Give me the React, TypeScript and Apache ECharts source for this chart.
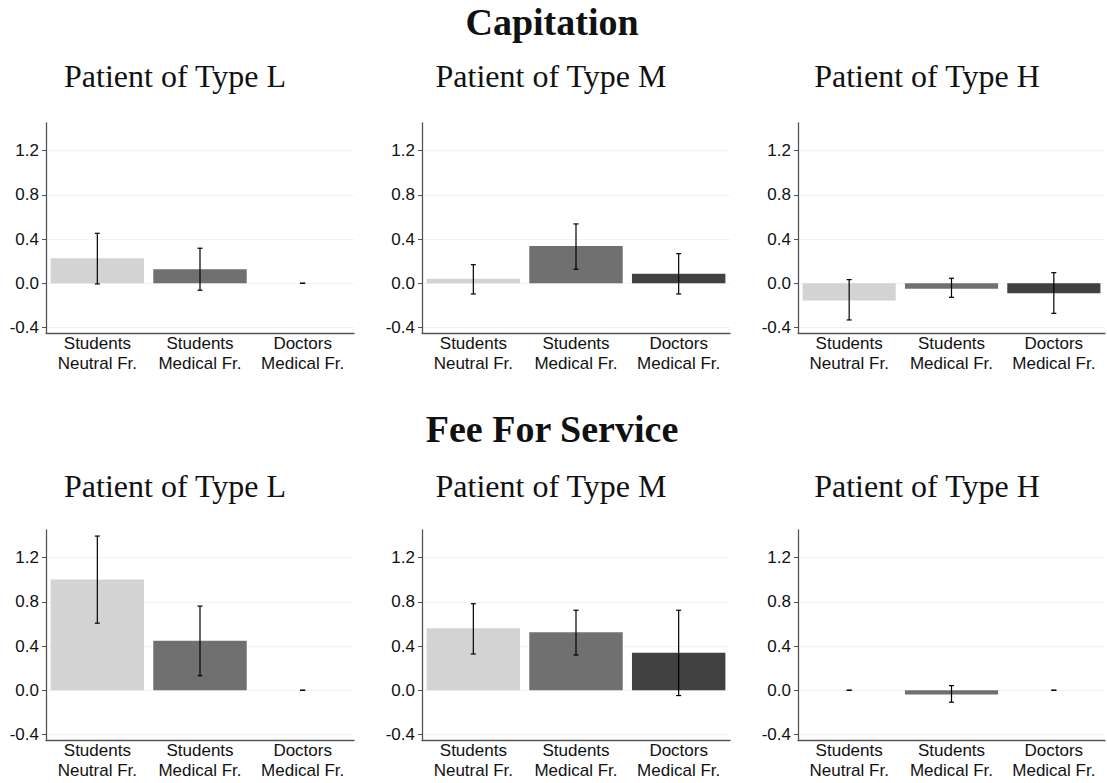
import React, { useEffect, useRef } from "react";
import * as echarts from "echarts";

const categories = ["Students\nNeutral Fr.", "Students\nMedical Fr.", "Doctors\nMedical Fr."];
const barColors = ["#d3d3d3", "#707070", "#414141"];
const yTicks = [-0.4, 0, 0.4, 0.8, 1.2];

const rowTitles = ["Capitation", "Fee For Service"];
const panelTitles = ["Patient of Type L", "Patient of Type M", "Patient of Type H"];

// Capitation
const capL = [0.226, 0.127, 0];
const capLLow = [-0.006, -0.063, 0];
const capLHigh = [0.452, 0.317, 0];
const capM = [0.04, 0.338, 0.087];
const capMLow = [-0.097, 0.127, -0.097];
const capMHigh = [0.168, 0.537, 0.268];
const capH = [-0.157, -0.049, -0.09];
const capHLow = [-0.332, -0.127, -0.272];
const capHHigh = [0.033, 0.045, 0.096];
// Fee For Service
const ffsL = [1.003, 0.447, 0];
const ffsLLow = [0.607, 0.132, 0];
const ffsLHigh = [1.395, 0.762, 0];
const ffsM = [0.562, 0.526, 0.339];
const ffsMLow = [0.328, 0.319, -0.048];
const ffsMHigh = [0.783, 0.724, 0.724];
const ffsH = [0, -0.039, 0];
const ffsHLow = [0, -0.108, 0];
const ffsHHigh = [0, 0.042, 0];

const panels = [
  { v: capL, lo: capLLow, hi: capLHigh },
  { v: capM, lo: capMLow, hi: capMHigh },
  { v: capH, lo: capHLow, hi: capHHigh },
  { v: ffsL, lo: ffsLLow, hi: ffsLHigh },
  { v: ffsM, lo: ffsMLow, hi: ffsMHigh },
  { v: ffsH, lo: ffsHLow, hi: ffsHHigh },
];

const sansFont = "Liberation Sans";
const serifFont = "Liberation Serif";

export default function App() {
  const ref = useRef<HTMLDivElement>(null);
  useEffect(() => {
    if (!ref.current) return;
    const chart = echarts.init(ref.current, null, { renderer: "svg" });
    const gridLefts = [46, 422, 798];
    const gridWidths = [308, 308, 307];
    const gridTops = [123, 530];
    const gridHeight = 210;
    const grids: any[] = [];
    const xAxes: any[] = [];
    const yAxes: any[] = [];
    const series: any[] = [];
    const labelStyle = {
      color: "#111111",
      fontFamily: sansFont,
      fontSize: 17,
    };
    panels.forEach((p, i) => {
      const row = Math.floor(i / 3);
      const col = i % 3;
      grids.push({
        left: gridLefts[col],
        top: gridTops[row],
        width: gridWidths[col],
        height: gridHeight,
        containLabel: false,
      });
      xAxes.push({
        type: "category",
        gridIndex: i,
        data: categories,
        axisLine: { onZero: false, lineStyle: { color: "#555555", width: 1.3 } },
        axisTick: { show: false },
        axisLabel: {
          ...labelStyle,
          lineHeight: 20,
          margin: 0,
          interval: 0,
        },
        splitLine: { show: false },
      });
      yAxes.push({
        type: "value",
        gridIndex: i,
        min: -0.45,
        max: 1.45,
        axisLine: { show: true, onZero: false, lineStyle: { color: "#555555", width: 1.3 } },
        axisTick: { show: true, length: 4, customValues: yTicks, lineStyle: { color: "#555555" } },
        axisLabel: {
          ...labelStyle,
          customValues: yTicks,
          margin: 7,
          formatter: (v: number) => v.toFixed(1),
        },
        splitLine: { show: true, lineStyle: { color: "#eef3f3", width: 1 } },
      });
      series.push({
        type: "bar",
        xAxisIndex: i,
        yAxisIndex: i,
        barCategoryGap: "9%",
        data: p.v.map((val, k) => ({ value: val, itemStyle: { color: barColors[k] } })),
      });
      series.push({
        type: "custom",
        xAxisIndex: i,
        yAxisIndex: i,
        z: 5,
        data: p.v.map((_, k) => [k, p.lo[k], p.hi[k]]),
        renderItem: (params: any, api: any) => {
          const x = api.value(0);
          const lo = api.coord([x, api.value(1)]);
          const hi = api.coord([x, api.value(2)]);
          const hw = 2.5;
          const st = { stroke: "#000000", lineWidth: 1.2 };
          return {
            type: "group",
            children: [
              { type: "line", shape: { x1: lo[0], y1: lo[1], x2: hi[0], y2: hi[1] }, style: st },
              { type: "line", shape: { x1: lo[0] - hw, y1: lo[1], x2: lo[0] + hw, y2: lo[1] }, style: st },
              { type: "line", shape: { x1: hi[0] - hw, y1: hi[1], x2: hi[0] + hw, y2: hi[1] }, style: st },
            ],
          };
        },
      });
    });

    const subCenters = [175, 551, 927];
    const graphics: any[] = [];
    const rowTitleY = [22, 429];
    const subY = [76, 486];
    rowTitles.forEach((t, r) => {
      graphics.push({
        type: "text",
        x: 552,
        y: rowTitleY[r],
        style: {
          text: t,
          fontFamily: serifFont,
          fontWeight: "bold",
          fontSize: 38,
          fill: "#111111",
          textAlign: "center",
          textVerticalAlign: "middle",
        },
      });
      panelTitles.forEach((pt, c) => {
        graphics.push({
          type: "text",
          x: subCenters[c],
          y: subY[r],
          style: {
            text: pt,
            fontFamily: serifFont,
            fontSize: 32,
            fill: "#111111",
            textAlign: "center",
            textVerticalAlign: "middle",
          },
        });
      });
    });

    chart.setOption({
      animation: false,
      backgroundColor: "#ffffff",
      textStyle: { fontFamily: sansFont, fontSize: 17 },
      grid: grids,
      xAxis: xAxes,
      yAxis: yAxes,
      series,
      graphic: graphics,
    });
    return () => chart.dispose();
  }, []);
  return (
    <div
      ref={ref}
      style={{ position: "fixed", left: 0, top: 0, width: 1107, height: 783, background: "#fff" }}
    />
  );
}
